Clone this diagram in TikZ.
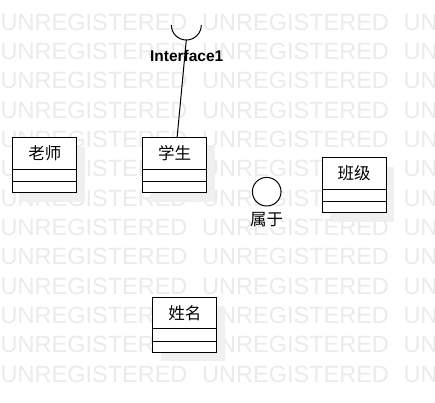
\documentclass[tikz,border=0pt]{standalone}
\usepackage{fontspec}
\setmainfont{Liberation Sans}
\newfontfamily\cjk{Noto Sans CJK SC}
\usetikzlibrary{calc,shadows}
\tikzset{
  umlbox/.style={draw, line width=1pt, fill=white, minimum width=64pt, minimum height=55pt,
    inner sep=0pt, anchor=north west,
    drop shadow={shadow xshift=8pt, shadow yshift=-9pt, fill=black!6, opacity=1}},
  umlname/.style={font=\cjk\fontsize{16.5}{18}\selectfont, inner sep=0pt},
  wm/.style={font=\fontsize{23.5}{26}\selectfont, text=black!8, anchor=base west, inner sep=0pt},
  conn/.style={line width=1pt},
}
\newcommand{\umlclass}[4]{%
  \node[umlbox] (#1) at (#2,#3) {};
  \node[umlname] (#1-name) at ($(#1.north)+(0,16)$) {#4};
  \draw[conn] ($(#1.north west)+(0,32)$) -- ($(#1.north east)+(0,32)$);
  \draw[conn] ($(#1.north west)+(0,44.5)$) -- ($(#1.north east)+(0,44.5)$);
}
\begin{document}
\begin{tikzpicture}[x=1pt,y=-1pt]
  \useasboundingbox (0,0) rectangle (435,402);
  \fill[white] (0,0) rectangle (435,402);
  \begin{scope}
    \clip (0,0) rectangle (435,402);
    \foreach \r in {0,...,12} {
      \foreach \c in {0,1,2} {
        \node[wm] (wm-\r-\c) at ({0.5+201.5*\c},{30.2+29.33*\r}) {UNREGISTERED};
      }
    }
  \end{scope}

  \umlclass{laoshi}{12.3}{137.2}{老师}
  \umlclass{xuesheng}{142}{137.3}{学生}
  \umlclass{banji}{321.7}{157.3}{班级}
  \umlclass{xingming}{152.3}{296.7}{姓名}

  % interface socket
  \draw[conn] (171.3,25) arc[start angle=180, end angle=360, radius=15pt];
  \coordinate (ifc) at (186.3,40);
  \node[font=\bfseries\fontsize{15.5}{17}\selectfont, inner sep=0pt] (iflabel) at (186.7,56) {Interface1};
  \draw[conn] (ifc) -- (xuesheng);

  % association circle
  \node[draw, circle, line width=1pt, minimum size=28.6pt, inner sep=0pt, fill=white] (shuyu) at (266.7,191.7) {};
  \node[umlname] (shuyu-label) at (266.5,220) {属于};
\end{tikzpicture}
\end{document}
